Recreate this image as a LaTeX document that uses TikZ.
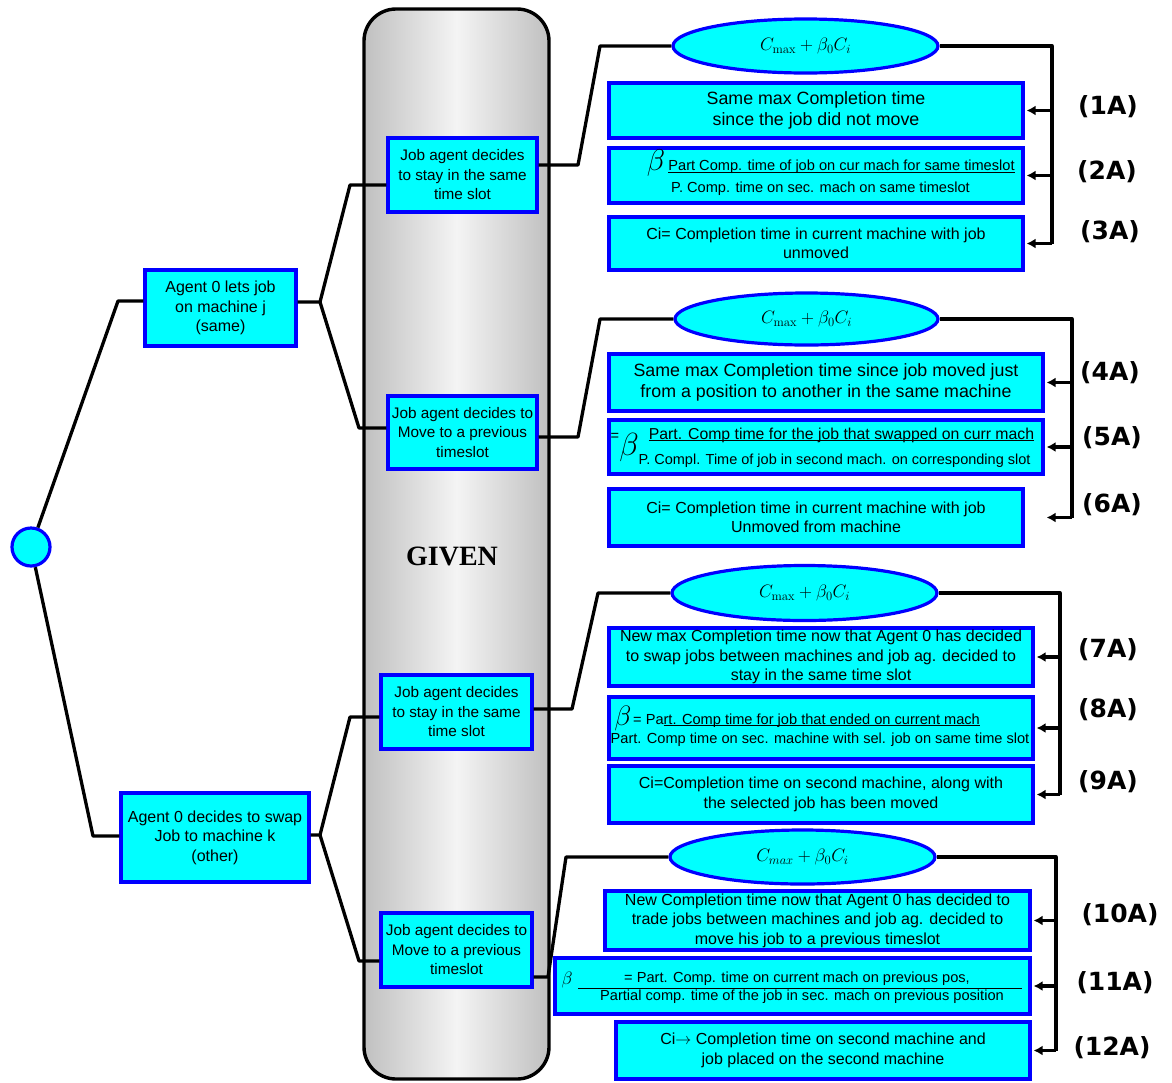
\RequirePackage{fix-cm}
\documentclass[tikz,border=0pt]{standalone}
\usepackage[no-math]{fontspec}
\setmainfont{Liberation Sans}
\newfontfamily\labfont{DejaVu Sans}
\newfontfamily\givfont{Liberation Serif}
\usetikzlibrary{shapes.geometric,arrows.meta,calc}
\definecolor{bcyan}{RGB}{0,255,255}
\definecolor{bblue}{RGB}{0,0,255}
\definecolor{colgray}{RGB}{192,192,192}
\definecolor{collight}{RGB}{244,244,244}
\newcommand\myul[1]{\underline{\vphantom{x}\smash{#1}}}
\begin{document}
\begin{tikzpicture}[x=1pt,y=-1pt,
  box/.style={draw=bblue,fill=bcyan,line width=3.2pt,inner sep=0pt,align=center},
  oval/.style={ellipse,draw=bblue,fill=bcyan,line width=3.2pt,inner sep=0pt,font=\fontsize{18}{20}\selectfont},
  conn/.style={line width=3.3pt,black,line join=round},
  arr/.style={line width=3.3pt,black,-{Latex[length=9pt,width=10pt]}},
  fmid/.style={font=\fontsize{16}{19.5}\selectfont},
  fjob/.style={font=\fontsize{15.3}{19.5}\selectfont},
  fbig/.style={font=\fontsize{17.8}{21}\selectfont},
  fsml/.style={font=\fontsize{14.6}{18}\selectfont},
  lab/.style={font=\labfont\bfseries\fontsize{25}{28}\selectfont},
  ftxt/.style={inner sep=0pt,align=center},
]
\useasboundingbox (0,0) rectangle (1172,1082);
\fill[white] (0,0) rectangle (1172,1082);

% central column
\draw[line width=3.4pt,rounded corners=32pt,left color=colgray,right color=colgray,middle color=collight] (364,9) rectangle (549,1079);
\node[font=\givfont\bfseries\fontsize{28}{30}\selectfont] (given) at (452,556) {GIVEN};

% root and agent decisions
\node[circle,draw=bblue,fill=bcyan,line width=3.2pt,minimum size=38pt,inner sep=0pt] (root) at (31,547) {};
\node[box,fmid,minimum width=151pt,minimum height=76pt] (agA) at (220.5,308) {Agent 0 lets job\\on machine j\\(same)};
\node[box,fmid,minimum width=188pt,minimum height=89pt] (agB) at (215,837.5) {Agent 0 decides to swap\\Job to machine k\\(other)};

% job agent decisions
\node[box,fjob,minimum width=149pt,minimum height=74pt] (j1) at (462.5,175) {Job agent decides\\to stay in the same\\time slot};
\node[box,fjob,minimum width=149pt,minimum height=73pt] (j2) at (462.5,432.5) {Job agent decides to\\Move to a previous\\timeslot};
\node[box,fjob,minimum width=151pt,minimum height=74pt] (j3) at (456.5,712) {Job agent decides\\to stay in the same\\time slot};
\node[box,fjob,minimum width=151pt,minimum height=74pt] (j4) at (456.5,950) {Job agent decides to\\Move to a previous\\timeslot};

% ellipses
\node[oval,minimum width=265pt,minimum height=54pt] (e1) at (805.5,46) {$C_{\max}+\beta_0C_i$};
\node[oval,minimum width=263pt,minimum height=52pt] (e2) at (806.5,319) {$C_{\max}+\beta_0C_i$};
\node[oval,minimum width=265pt,minimum height=55pt] (e3) at (804.5,593) {$C_{\max}+\beta_0C_i$};
\node[oval,minimum width=265pt,minimum height=54pt] (e4) at (802.5,857) {$C_{max}+\beta_0C_i$};

% group 1 boxes
\node[box,fbig,minimum width=414pt,minimum height=55pt] (A1) at (816,110.5) {Same max Completion time\\since the job did not move};
\node[box,minimum width=414pt,minimum height=55pt] (A2) at (816,175.5) {};
\node[font=\fontsize{30}{30}\selectfont,inner sep=0pt] (A2b) at (656,163) {$\beta$};
\node[ftxt,fsml] (A2n) at (841.5,168) {\myul{Part Comp. time of job on cur mach for same timeslot}};
\node[ftxt,fsml] (A2d) at (820.5,189) {P. Comp. time on sec. mach on same timeslot};
\node[box,fmid,minimum width=414pt,minimum height=53pt] (A3) at (816,243.5) {Ci= Completion time in current machine with job\\unmoved};

% group 2 boxes
\node[box,fbig,minimum width=434pt,minimum height=57pt] (A4) at (826,382.5) {Same max Completion time since job moved just\\from a position to another in the same machine};
\node[box,minimum width=434pt,minimum height=54pt] (A5) at (826,447) {};
\node[ftxt,fsml] (A5e) at (615,437) {=};
\node[font=\fontsize{32}{32}\selectfont,inner sep=0pt] (A5b) at (629,447) {$\beta$};
\node[ftxt,font=\fontsize{15.8}{18}\selectfont] (A5n) at (841.5,436) {\myul{Part. Comp time for the job that swapped on curr mach}};
\node[ftxt,font=\fontsize{14.5}{18}\selectfont] (A5d) at (834.5,461) {P. Compl. Time of job in second mach. on corresponding slot};
\node[box,fmid,minimum width=414pt,minimum height=57pt] (A6) at (816,517.5) {Ci= Completion time in current machine with job\\Unmoved from machine};

% group 3 boxes
\node[box,fmid,minimum width=424pt,minimum height=58pt] (A7) at (821,657) {New max Completion time now that Agent 0 has decided\\to swap jobs between machines and job ag. decided to\\stay in the same time slot};
\node[box,minimum width=424pt,minimum height=62pt] (A8) at (821,728) {};
\node[font=\fontsize{28}{28}\selectfont,inner sep=0pt] (A8b) at (623,718) {$\beta$};
\node[ftxt,fsml,anchor=west] (A8n) at (633,720) {= Pa\myul{rt. Comp time for job that ended on current mach}};
\node[ftxt,fsml] (A8d) at (820,740) {Part. Comp time on sec. machine with sel. job on same time slot};
\node[box,fmid,minimum width=424pt,minimum height=57pt] (A9) at (821,794.5) {Ci=Completion time on second machine, along with\\the selected job has been moved};

% group 4 boxes
\node[box,fmid,minimum width=425pt,minimum height=59pt] (A10) at (817.5,920.5) {New Completion time now that Agent 0 has decided to\\trade jobs between machines and job ag. decided to\\move his job to a previous timeslot};
\node[box,minimum width=475pt,minimum height=56pt] (A11) at (792.5,986) {};
\node[font=\fontsize{18}{18}\selectfont,inner sep=0pt] (A11b) at (567,980) {$\beta$};
\node[ftxt,fsml] (A11n) at (797,979) {= Part. Comp. time on current mach on previous pos,};
\draw[line width=1pt] ($(A11.west)+(25,2)$) -- ($(A11.east)+(-10,2)$);
\node[ftxt,fsml] (A11d) at (802,997) {Partial comp. time of the job in sec. mach on previous position};
\node[box,fmid,minimum width=414pt,minimum height=57pt] (A12) at (823,1050.5) {Ci$\rightarrow$ Completion time on second machine and\\job placed on the second machine};

% labels
\node[lab] (l1) at (1108,107) {(1A)};
\node[lab] (l2) at (1107,172) {(2A)};
\node[lab] (l3) at (1110,232) {(3A)};
\node[lab] (l4) at (1110,373) {(4A)};
\node[lab] (l5) at (1112,438) {(5A)};
\node[lab] (l6) at (1112,505) {(6A)};
\node[lab] (l7) at (1108,650) {(7A)};
\node[lab] (l8) at (1108,710) {(8A)};
\node[lab] (l9) at (1108,782) {(9A)};
\node[lab] (l10) at (1120,915) {(10A)};
\node[lab] (l11) at (1115,983) {(11A)};
\node[lab] (l12) at (1112,1048) {(12A)};

% left tree connectors
\coordinate (kA) at (118,301);
\coordinate (kB) at (93,836);
\draw[conn] (root) -- (kA) -- (agA.west |- kA);
\draw[conn] (root) -- (kB) -- (agB.west |- kB);
\coordinate (jA) at (320,302);
\coordinate (jA1) at (350,185);
\coordinate (jA2) at (359,428);
\draw[conn] (agA.east |- jA) -- (jA) -- (jA1) -- (j1.west |- jA1);
\draw[conn] (jA) -- (jA2) -- (j2.west |- jA2);
\coordinate (jB) at (320,835);
\coordinate (jB1) at (350,717);
\coordinate (jB2) at (359,961);
\draw[conn] (agB.east |- jB) -- (jB) -- (jB1) -- (j3.west |- jB1);
\draw[conn] (jB) -- (jB2) -- (j4.west |- jB2);

% job boxes to ellipses
\coordinate (r1) at (578,165); \coordinate (t1) at (600,46);
\draw[conn] (j1.east |- r1) -- (r1) -- (t1) -- (e1.west);
\coordinate (r2) at (578,437); \coordinate (t2) at (600,319);
\draw[conn] (j2.east |- r2) -- (r2) -- (t2) -- (e2.west);
\coordinate (r3) at (572,709); \coordinate (t3) at (598,593);
\draw[conn] (j3.east |- r3) -- (r3) -- (t3) -- (e3.west);
\coordinate (r4) at (548,977); \coordinate (t4) at (566,857);
\draw[conn] (j4.east |- r4) -- (r4) -- (t4) -- (e4.west);

% ellipses to result boxes
\coordinate (v1) at (1052,46);
\draw[conn] (e1.east) -- (v1) -- (v1 |- A3.east);
\draw[arr] (v1 |- A1.east) -- ($(A1.east)+(2,0)$);
\draw[arr] (v1 |- A2.east) -- ($(A2.east)+(2,0)$);
\draw[arr] (v1 |- A3.east) -- ($(A3.east)+(2,0)$);

\coordinate (v2) at (1072,319);
\draw[conn] (e2.east) -- (v2) -- (v2 |- A6.east);
\draw[arr] (v2 |- A4.east) -- ($(A4.east)+(2,0)$);
\draw[arr] (v2 |- A5.east) -- ($(A5.east)+(2,0)$);
\draw[arr] (v2 |- A6.east) -- ($(A6.east)+(22,0)$);

\coordinate (v3) at (1060,593);
\draw[conn] (e3.east) -- (v3) -- (v3 |- A9.east);
\draw[arr] (v3 |- A7.east) -- ($(A7.east)+(2,0)$);
\draw[arr] (v3 |- A8.east) -- ($(A8.east)+(2,0)$);
\draw[arr] (v3 |- A9.east) -- ($(A9.east)+(2,0)$);

\coordinate (v4) at (1056,857);
\draw[conn] (e4.east) -- (v4) -- (v4 |- A12.east);
\draw[arr] (v4 |- A10.east) -- ($(A10.east)+(2,0)$);
\draw[arr] (v4 |- A11.east) -- ($(A11.east)+(2,0)$);
\draw[arr] (v4 |- A12.east) -- ($(A12.east)+(2,0)$);
\end{tikzpicture}
\end{document}
